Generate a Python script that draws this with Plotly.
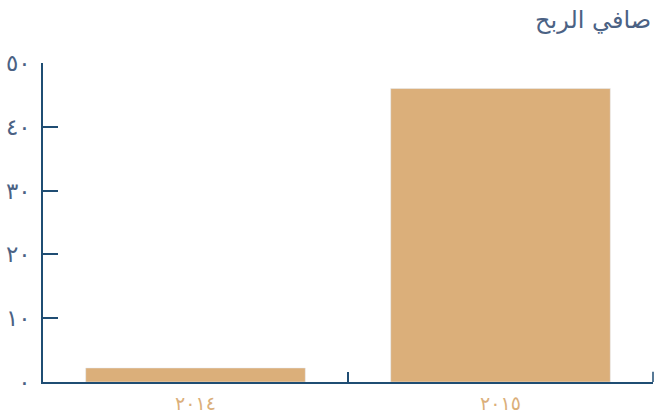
import plotly.graph_objects as go

categories = ["٢٠١٤", "٢٠١٥"]
values = [2.2, 46]
tick_vals = [0, 10, 20, 30, 40, 50]
tick_text = ["٠", "١٠", "٢٠", "٣٠", "٤٠", "٥٠"]
title_text = "صافي الربح"

axis_color = "#1f4d73"
label_color = "#4b6284"
bar_color = "#dbaf7a"

fig = go.Figure(go.Bar(x=categories, y=values, marker_color=bar_color, width=0.72))

fig.update_layout(
    width=656, height=417,
    margin=dict(l=43, r=3, t=63, b=35, autoexpand=False),
    plot_bgcolor="white", paper_bgcolor="white",
    showlegend=False,
    font=dict(family="DejaVu Sans"),
    annotations=[dict(text=title_text, xref="paper", yref="paper", x=1.0, y=1.0,
                      xanchor="right", yanchor="bottom", yshift=27, showarrow=False,
                      font=dict(size=24, color=label_color, family="DejaVu Sans"))],
    shapes=[dict(type="line", xref="paper", yref="paper", x0=1, x1=1, y0=0, y1=0.032,
                 line=dict(color=axis_color, width=1.5))],
)
fig.update_xaxes(
    automargin=False,
    showline=True, linecolor=axis_color, linewidth=1.5,
    ticks="inside", tickson="boundaries", ticklen=10, tickcolor=axis_color, tickwidth=1.5,
    tickfont=dict(size=19, color=bar_color), ticklabelstandoff=3,
    showgrid=False, zeroline=False,
)
fig.update_yaxes(
    automargin=False,
    range=[0, 50], tickvals=tick_vals, ticktext=tick_text,
    showline=True, linecolor=axis_color, linewidth=1.5,
    ticks="inside", ticklen=15, tickcolor=axis_color, tickwidth=1.5,
    tickfont=dict(size=23, color=label_color), ticklabelstandoff=6,
    showgrid=False, zeroline=False,
)

fig.write_html("out.html")
